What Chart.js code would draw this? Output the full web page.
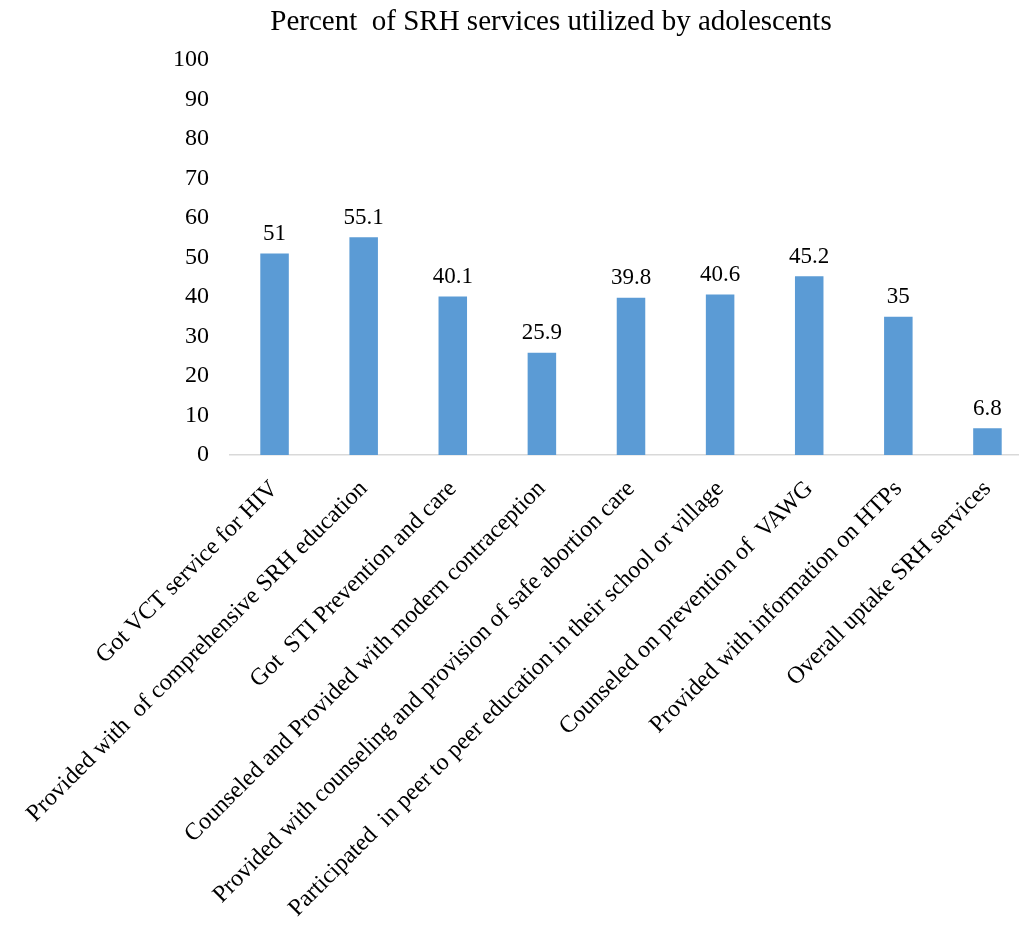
<!DOCTYPE html>
<html>
<head>
<meta charset="utf-8">
<script src="https://cdn.jsdelivr.net/npm/chart.js@4"></script>
<style>
  html, body { margin: 0; padding: 0; background: #fff; overflow: hidden; }
  #wrap { width: 1102px; height: 929px; }
</style>
</head>
<body>
<div id="wrap"><canvas id="srhChart"></canvas></div>
<script>
  const categories = [
    "Got VCT service for HIV",
    "Provided with  of comprehensive SRH education",
    "Got  STI Prevention and care",
    "Counseled and Provided with modern contraception",
    "Provided with counseling and provision of safe abortion care",
    "Participated  in peer to peer education in their school or village",
    "Counseled on prevention of  VAWG",
    "Provided with information on HTPs",
    "Overall uptake SRH services"
  ];
  const percents = [51, 55.1, 40.1, 25.9, 39.8, 40.6, 45.2, 35, 6.8];
  const yTicks = [0, 10, 20, 30, 40, 50, 60, 70, 80, 90, 100];

  const serif = "'Liberation Serif', 'Times New Roman', serif";

  // draws the value above each bar
  const valueLabels = {
    id: "valueLabels",
    afterDatasetsDraw(chart) {
      const ctx = chart.ctx;
      const meta = chart.getDatasetMeta(0);
      ctx.save();
      ctx.font = "23px " + serif;
      ctx.fillStyle = "#000";
      ctx.textAlign = "center";
      ctx.textBaseline = "bottom";
      meta.data.forEach((bar, i) => {
        ctx.fillText(String(percents[i]), bar.x, bar.y - 8);
      });
      ctx.restore();
    }
  };

  const ctx = document.getElementById("srhChart").getContext("2d");
  new Chart(ctx, {
    type: "bar",
    data: {
      labels: categories,
      datasets: [{
        data: percents,
        backgroundColor: "#5b9bd5",
        borderWidth: 0,
        barPercentage: 0.32,
        categoryPercentage: 1
      }]
    },
    options: {
      responsive: true,
      maintainAspectRatio: false,
      animation: false,
      layout: { padding: { left: 70, right: 70, top: 0, bottom: 0 } },
      plugins: {
        legend: { display: false },
        tooltip: { enabled: false },
        title: {
          display: true,
          text: "Percent  of SRH services utilized by adolescents",
          color: "#000",
          font: { family: serif, size: 29, weight: "normal" },
          padding: { top: 5, bottom: 20 }
        }
      },
      scales: {
        x: {
          grid: { display: false, drawTicks: false },
          border: { display: true, color: "#d9d9d9", width: 1.5 },
          ticks: {
            color: "#000",
            font: { family: serif, size: 24 },
            minRotation: 45,
            maxRotation: 45,
            autoSkip: false,
            padding: 20
          },
          afterFit(s) { s.height = 929 - 455; }
        },
        y: {
          min: 0,
          max: 100,
          grid: { display: false, drawTicks: false },
          border: { display: false },
          afterBuildTicks(s) { s.ticks = yTicks.map(v => ({ value: v })); },
          ticks: {
            color: "#000",
            font: { family: serif, size: 24 },
            padding: 21
          },
          afterFit(s) { s.width = 160; }
        }
      }
    },
    plugins: [valueLabels]
  });
</script>
</body>
</html>
